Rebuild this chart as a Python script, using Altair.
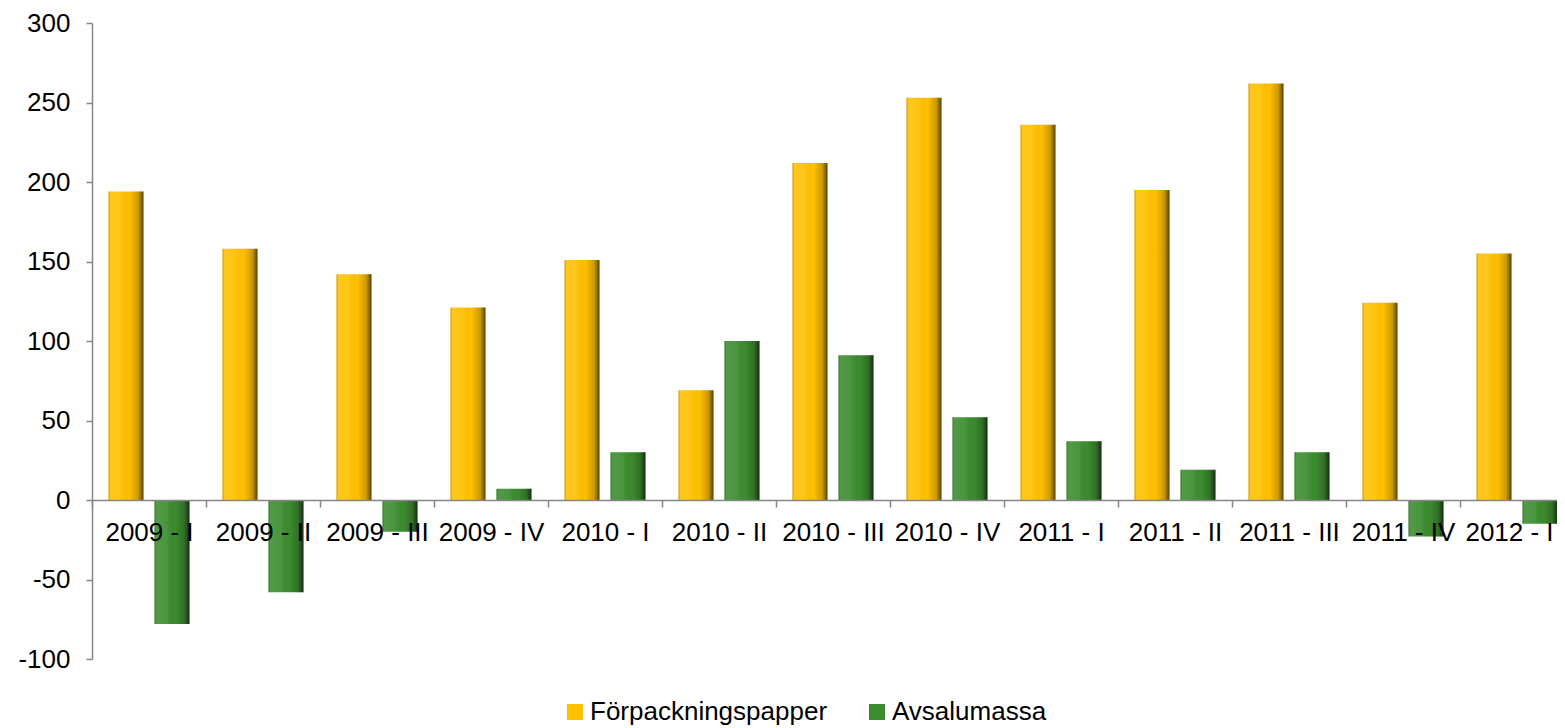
import altair as alt
import pandas as pd

categories = ["2009 - I", "2009 - II", "2009 - III", "2009 - IV", "2010 - I", "2010 - II",
              "2010 - III", "2010 - IV", "2011 - I", "2011 - II", "2011 - III", "2011 - IV", "2012 - I"]
forpackning = [194, 158, 142, 121, 151, 69, 212, 253, 236, 195, 262, 124, 155]
avsalumassa = [-78, -58, -20, 7, 30, 100, 91, 52, 37, 19, 30, -23, -15]
series = ["Förpackningspapper", "Avsalumassa"]
y_ticks = [-100, -50, 0, 50, 100, 150, 200, 250, 300]

rows = []
for c, a, b in zip(categories, forpackning, avsalumassa):
    rows.append({"kvartal": c, "serie": series[0], "varde": a})
    rows.append({"kvartal": c, "serie": series[1], "varde": b})
df = pd.DataFrame(rows)

FONT = "Liberation Sans"

x_enc = alt.X("kvartal:N", sort=categories, title=None,
              scale=alt.Scale(paddingInner=0, paddingOuter=0),
              axis=alt.Axis(labelAngle=0, labelFontSize=26, labelFont=FONT, labelColor="#000000",
                            domainColor="#868686", domainWidth=1.5, tickColor="#868686",
                            tickWidth=1.5, tickSize=7, tickBand="extent", labelPadding=12,
                            offset=-159, zindex=1, labelOverlap=False, grid=False,
                            labelOffset={"condition": {"test": "datum.value === '2012 - I'", "value": -8},
                                         "value": 0}))
y_enc = alt.Y("varde:Q", title=None,
              scale=alt.Scale(domain=[-100, 300], nice=False, zero=False),
              axis=alt.Axis(values=y_ticks, grid=False, labelFontSize=26, labelFont=FONT,
                            labelColor="#000000", domainColor="#868686", domainWidth=1.5,
                            tickColor="#868686", tickWidth=1.5, tickSize=6, labelPadding=16,
                            labelExpr="datum.value + ''"))
xo_enc = alt.XOffset("serie:N", sort=series,
                     scale=alt.Scale(paddingInner=0.24, paddingOuter=0.36))

base = alt.Chart(df).mark_bar().encode(
    x=x_enc, y=y_enc, xOffset=xo_enc,
    color=alt.Color("serie:N", sort=series,
                    scale=alt.Scale(domain=series, range=["#FFC000", "#3B8C2E"]),
                    legend=alt.Legend(title=None, orient="none", direction="horizontal",
                                      legendX=470, legendY=676, labelFontSize=26, labelFont=FONT,
                                      labelColor="#000000", symbolType="square", symbolSize=256,
                                      symbolStrokeWidth=0, columnPadding=36, labelOffset=2,
                                      labelLimit=0))
)

shade = alt.Gradient(
    gradient="linear", x1=0, x2=1, y1=0, y2=0,
    stops=[
        alt.GradientStop(offset=0, color="rgba(0,0,0,0.25)"),
        alt.GradientStop(offset=0.06, color="rgba(255,255,255,0.12)"),
        alt.GradientStop(offset=0.35, color="rgba(255,255,255,0.08)"),
        alt.GradientStop(offset=0.6, color="rgba(0,0,0,0)"),
        alt.GradientStop(offset=0.85, color="rgba(0,0,0,0.2)"),
        alt.GradientStop(offset=1, color="rgba(0,0,0,0.65)"),
    ],
)

overlay = alt.Chart(df).mark_bar(color=shade).encode(
    x=x_enc, y=y_enc, xOffset=xo_enc
)

chart = alt.layer(base, overlay).properties(
    width=1482, height=636,
    autosize=alt.AutoSizeParams(type="none"),
    padding={"left": 84, "top": 15, "right": -17, "bottom": 72},
).configure(font=FONT).configure_view(stroke=None).configure_axis(grid=False)

chart.save("out.html", embed_options={"renderer": "svg", "actions": False})
